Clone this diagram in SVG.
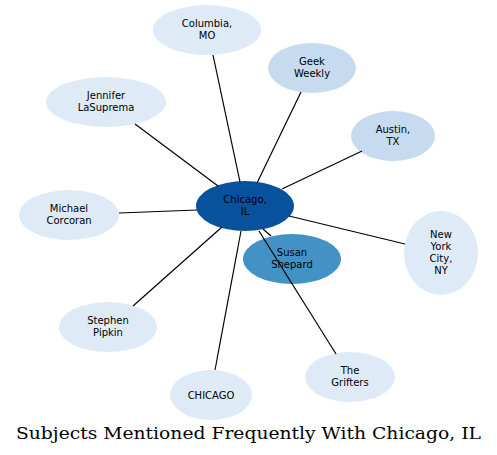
<svg xmlns="http://www.w3.org/2000/svg" width="497" height="455" viewBox="0 0 497 455">
<style>
.n text{font-family:"DejaVu Sans",sans-serif;font-size:10px;fill:#000;text-anchor:middle}
.l1{fill:#deebf7}.l2{fill:#c6dbef}.l3{fill:#4292c6}.l4{fill:#08519c}
#edges line{stroke:#000;stroke-width:1.2}
.title{font-family:"DejaVu Serif",serif;font-size:17.5px;text-anchor:middle}
</style>
<rect width="497" height="455" fill="#fff"/>
<g id="chicago_il" class="n"><ellipse class="l4" cx="245" cy="206" rx="49" ry="25"/><text x="245" y="203">Chicago,</text><text x="245" y="215">IL</text></g>
<g id="columbia" class="n"><ellipse class="l1" cx="207" cy="30" rx="54" ry="25"/><text x="207" y="27">Columbia,</text><text x="207" y="39">MO</text></g>
<g id="geek" class="n"><ellipse class="l2" cx="312" cy="68" rx="44" ry="25"/><text x="312" y="65">Geek</text><text x="312" y="77">Weekly</text></g>
<g id="austin" class="n"><ellipse class="l2" cx="393" cy="136" rx="42" ry="25"/><text x="393" y="133">Austin,</text><text x="393" y="145">TX</text></g>
<g id="jennifer" class="n"><ellipse class="l1" cx="106" cy="102" rx="60" ry="25"/><text x="106" y="99">Jennifer</text><text x="106" y="111">LaSuprema</text></g>
<g id="michael" class="n"><ellipse class="l1" cx="69" cy="215" rx="50" ry="25"/><text x="69" y="212">Michael</text><text x="69" y="224">Corcoran</text></g>
<g id="newyork" class="n"><ellipse class="l1" cx="441" cy="253" rx="37" ry="42"/><text x="441" y="238">New</text><text x="441" y="250">York</text><text x="441" y="262">City,</text><text x="441" y="274">NY</text></g>
<g id="susan" class="n"><ellipse class="l3" cx="292" cy="259" rx="49" ry="25"/><text x="292" y="256">Susan</text><text x="292" y="268">Shepard</text></g>
<g id="stephen" class="n"><ellipse class="l1" cx="108" cy="327" rx="49" ry="25"/><text x="108" y="324">Stephen</text><text x="108" y="336">Pipkin</text></g>
<g id="chicago_caps" class="n"><ellipse class="l1" cx="211" cy="395" rx="41" ry="25"/><text x="211" y="399">CHICAGO</text></g>
<g id="grifters" class="n"><ellipse class="l1" cx="350" cy="377" rx="45" ry="25"/><text x="350" y="374">The</text><text x="350" y="386">Grifters</text></g>
<g id="edges">
<line x1="240" y1="182" x2="213" y2="55"/>
<line x1="257" y1="183" x2="301" y2="92"/>
<line x1="282" y1="189" x2="362" y2="151"/>
<line x1="218" y1="186" x2="135" y2="124"/>
<line x1="197" y1="210" x2="119" y2="213"/>
<line x1="289" y1="216" x2="405" y2="244"/>
<line x1="263" y1="229" x2="271" y2="236"/>
<line x1="259" y1="231" x2="336" y2="354"/>
<line x1="222" y1="227" x2="133" y2="306"/>
<line x1="241" y1="231" x2="215" y2="370"/>
</g>
<text class="title" x="248.5" y="439" textLength="465" lengthAdjust="spacingAndGlyphs">Subjects Mentioned Frequently With Chicago, IL</text>
</svg>
